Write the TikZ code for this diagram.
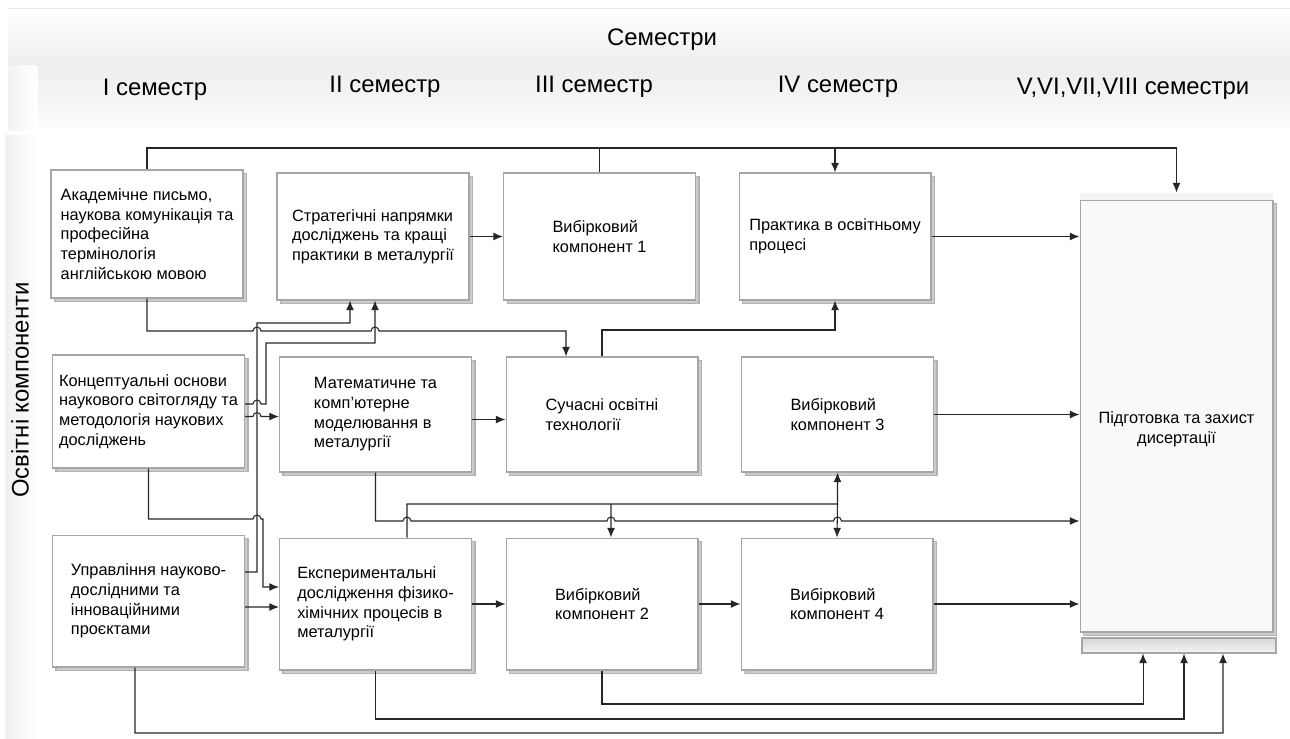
\documentclass[tikz,border=0pt]{standalone}
\usepackage{fontspec}
\setmainfont{Liberation Sans}
\usetikzlibrary{arrows.meta,shadows}

\newcommand{\boxfont}{\fontsize{9.3}{11.2}\selectfont}
\newcommand{\hdrfont}{\fontsize{13.6}{15}\selectfont}

\tikzset{
  kbox/.style={draw=gray!70, fill=white, line width=0.6pt, align=left, font=\boxfont,
    minimum width=3.84cm, inner sep=2pt,
    general shadow={fill=gray!40, draw=gray!60, shadow xshift=0.07cm, shadow yshift=-0.07cm}},
  link/.style={draw=black!85, line width=0.6pt, -{Latex[length=5.5pt,width=4.5pt]}},
  wire/.style={draw=black!85, line width=0.6pt},
}

\begin{document}
\begin{tikzpicture}[x=0.02cm, y=-0.02cm]
  \useasboundingbox (0,0) rectangle (1290,738);

  % Шапка таблиці
  \draw[gray!20] (8,8) -- (1290,8);
  \shade[top color=white, bottom color=gray!14] (8,10) rectangle (1290,65);
  \shade[top color=gray!14, bottom color=gray!3] (38,65) rectangle (1290,127);
  \shade[left color=gray!10, right color=white] (8,65) rectangle (36,130);
  \shade[left color=gray!12, right color=white] (5,135) rectangle (38,738);

  \node[font=\hdrfont] (hdr) at (662,40) {Семестри};
  \node[font=\hdrfont] (sem1) at (155,90) {I семестр};
  \node[font=\hdrfont] (sem2) at (385,87) {II семестр};
  \node[font=\hdrfont] (sem3) at (594,87) {III семестр};
  \node[font=\hdrfont] (sem4) at (838,87) {IV семестр};
  \node[font=\hdrfont] (sem5) at (1133,89) {V,VI,VII,VIII семестри};
  \node[font=\hdrfont, rotate=90] (comp) at (20,390) {Освітні компоненти};

  % Підготовка та захист дисертації
  \fill[gray!9] (1080,193) rectangle (1273,200);
  \filldraw[top color=gray!32, bottom color=gray!8, draw=gray!70, line width=0.6pt] (1082,638) rectangle (1276,653);
  \node[kbox, fill=gray!5, minimum width=3.86cm, minimum height=8.64cm] (E) at (1176.5,416) {};
  \node[font=\boxfont, align=center] (Etxt) at ([yshift=-0.26cm]E.center) {Підготовка та захист\\ дисертації};
  \coordinate (Eb) at ([yshift=-0.42cm]E.south);

  % Перший ряд
  \node[kbox, minimum height=2.56cm] (A1) at (147,234)
    {Академічне письмо,\\ наукова комунікація та\\ професійна\\ термінологія\\ англійською мовою};
  \node[kbox, minimum height=2.54cm] (B1) at (373,236.5)
    {Стратегічні напрямки\\ досліджень та кращі\\ практики в металургії};
  \node[kbox, minimum height=2.54cm] (C1) at (599.5,236.5)
    {Вибірковий\\ компонент 1};
  \node[kbox, minimum height=2.54cm] (D1) at (835,236.5)
    {Практика в освітньому\\ процесі};

  % Другий ряд
  \node[kbox, minimum height=2.26cm] (A2) at (148.5,411.5)
    {Концептуальні основи\\ наукового світогляду та\\ методологія наукових\\ досліджень};
  \node[kbox, minimum height=2.3cm] (B2) at (375.5,414.5)
    {Математичне та\\ комп’ютерне\\ моделювання в\\ металургії};
  \node[kbox, minimum height=2.3cm] (C2) at (602,414.5)
    {Сучасні освітні\\ технології};
  \node[kbox, minimum height=2.3cm] (D2) at (837.5,414.5)
    {Вибірковий\\ компонент 3};

  % Третій ряд
  \node[kbox, minimum height=2.64cm] (A3) at (148.5,601)
    {Управління науково-\\ дослідними та\\ інноваційними\\ проєктами};
  \node[kbox, minimum height=2.64cm] (B3) at (375.5,604)
    {Експериментальні\\ дослідження фізико-\\ хімічних процесів в\\ металургії};
  \node[kbox, minimum height=2.64cm] (C3) at (602,604)
    {Вибірковий\\ компонент 2};
  \node[kbox, minimum height=2.64cm] (D3) at (837,604)
    {Вибірковий\\ компонент 4};

  % Верхня лінія
  \draw[link] (A1.north) -- (147,148) -| ([yshift=0.14cm]E.north);
  \draw[wire] (C1.north) -- (599.5,148);
  \draw[link] (835,148) -- (D1.north);

  % Зв'язки між компонентами
  \draw[link] (B1) -- (C1);
  \draw[link] (D1.east) -- (D1.east -| E.west);
  \draw[link] (A1.south) -- (147,331) -- (253,331) arc[start angle=180, end angle=0, radius=0.08cm]
    -- (371,331) arc[start angle=180, end angle=0, radius=0.08cm] -- (566,331) -- ([xshift=-0.72cm]C2.north);
  \draw[link] ([yshift=0.58cm]A3.east) -- (257,572) -- (257,323) -- (350,323) -- ([xshift=-0.46cm]B1.south);
  \draw[link] ([yshift=0.15cm]A2.east) -- (253,404) arc[start angle=180, end angle=0, radius=0.08cm]
    -- (266,404) -- (266,343) -- (375,343) -- ([xshift=0.04cm]B1.south);
  \draw[link] ([yshift=-0.1cm]A2.east) -- (253,416.5) arc[start angle=180, end angle=0, radius=0.08cm]
    -- ([yshift=-0.04cm]B2.west);
  \draw[link] (A2.south) -- (148.5,519) -- (253,519) arc[start angle=180, end angle=0, radius=0.08cm]
    -- (263,519) -- (263,587) -- ([yshift=0.34cm]B3.west);
  \draw[link] ([yshift=-0.12cm]A3.east) -- ([yshift=-0.06cm]B3.west);
  \draw[link] ([yshift=-0.1cm]B2.east) -- ([yshift=-0.1cm]C2.west);
  \draw[link] (C2.north) -- (602,330) -| (D1.south);
  \draw[link] (D2.east) -- (D2.east -| E.west);

  % Вибіркові компоненти
  \coordinate (jC) at (611,504);
  \coordinate (jD) at (837.5,504);
  \draw[link] (B2.south) -- (375.5,521) -- (403,521) arc[start angle=180, end angle=0, radius=0.08cm]
    -- (607,521) arc[start angle=180, end angle=0, radius=0.08cm]
    -- (833.5,521) arc[start angle=180, end angle=0, radius=0.08cm] -- ([yshift=-2.1cm]E.west);
  \draw[link] ([xshift=0.63cm]B3.north) -- (407,504) -| (D2.south);
  \draw[link] (jD) -- (D3.north);
  \draw[link] (jC) -- ([xshift=0.18cm]C3.north);
  \draw[link] (B3) -- (C3);
  \draw[link] (C3) -- (D3);
  \draw[link] (D3.east) -- (D3.east -| E.west);

  % Нижні лінії
  \draw[link] (C3.south) -- (602,704) -| ([xshift=-0.67cm]Eb);
  \draw[link] (B3.south) -- (375.5,719) -| ([xshift=0.15cm]Eb);
  \draw[link] ([xshift=-0.27cm]A3.south) -- (135,733) -| ([xshift=0.93cm]Eb);
\end{tikzpicture}
\end{document}
